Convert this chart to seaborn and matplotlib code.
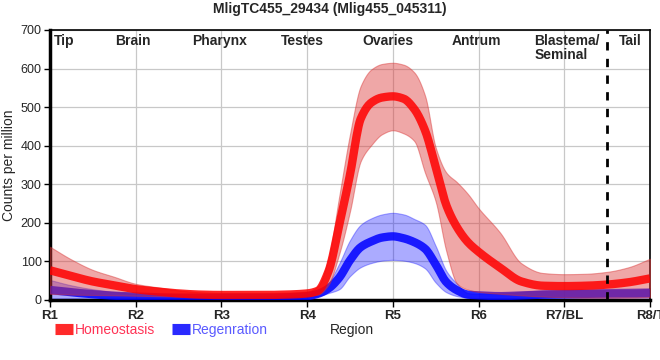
import matplotlib
matplotlib.use("Agg")
import matplotlib.pyplot as plt
from matplotlib.lines import Line2D
import numpy as np
import pandas as pd
import seaborn as sns

# positions along the body (1 = R1 ... 8 = R8/T)
pos = [1.0, 1.25, 1.5, 1.75, 2.0, 2.25, 2.5, 2.75, 3.0, 3.25, 3.5, 3.75,
       4.0, 4.125, 4.25, 4.375, 4.5, 4.625, 4.75, 4.875, 5.0, 5.125, 5.25,
       5.375, 5.5, 5.625, 5.75, 5.875, 6.0, 6.25, 6.5, 6.75, 7.0, 7.25, 7.5,
       7.75, 8.0]

homeo_mean = [77, 62, 48, 38, 28, 22, 17, 14, 13, 13, 13, 14,
              17, 24, 75, 195, 325, 470, 512, 525, 528, 522, 495,
              440, 345, 245, 188, 150, 125, 84, 48, 37, 36, 37, 40,
              46, 56]
homeo_hi = [138, 105, 78, 60, 42, 33, 25, 20, 18, 18, 18, 19,
            22, 36, 110, 270, 430, 555, 598, 612, 615, 610, 590,
            530, 395, 330, 305, 275, 238, 175, 95, 70, 67, 68, 73,
            85, 107]
homeo_lo = [16, 14, 13, 12, 11, 10, 9, 8, 8, 8, 8, 9,
            11, 14, 40, 120, 230, 360, 402, 430, 440, 432, 412,
            330, 255, 125, 42, 27, 21, 16, 12, 9, 7, 6, 6,
            6, 7]

regen_mean = [26, 20, 15, 11, 9, 7, 6, 6, 6, 6, 6, 7,
              10, 16, 30, 58, 103, 137, 152, 162, 165, 160, 150,
              133, 92, 46, 25, 14, 12, 10, 12, 14, 15, 16, 17,
              17, 18]
regen_hi = [52, 38, 28, 21, 16, 13, 11, 10, 10, 10, 10, 11,
            14, 24, 45, 95, 155, 195, 212, 222, 226, 222, 210,
            195, 140, 75, 42, 18, 16, 17, 21, 25, 27, 28, 29,
            30, 31]
regen_lo = [5, 4, 3, 3, 3, 3, 3, 3, 3, 3, 3, 4,
            6, 10, 18, 28, 62, 85, 96, 102, 104, 102, 96,
            82, 45, 20, 10, 6, 5, 4, 4, 5, 5, 5, 5,
            6, 6]

regions = ["R1", "R2", "R3", "R4", "R5", "R6", "R7/BL", "R8/T"]
organs = ["Tip", "Brain", "Pharynx", "Testes", "Ovaries", "Antrum",
          "Blastema/\nSeminal", "Tail"]
organ_x = [1.05, 1.97, 2.98, 3.95, 4.94, 5.97, 6.65, 7.77]
organ_ha = ["left", "center", "center", "center", "center", "center",
            "left", "center"]


def smooth(x, y, n=600):
    # monotone cubic (pchip) curve through the read points, for drawing only
    x = np.asarray(x, float)
    y = np.asarray(y, float)
    h = np.diff(x)
    d = np.diff(y) / h
    m = np.zeros_like(y)
    m[0], m[-1] = d[0], d[-1]
    for k in range(1, len(x) - 1):
        if d[k - 1] * d[k] > 0:
            w1 = 2 * h[k] + h[k - 1]
            w2 = h[k] + 2 * h[k - 1]
            m[k] = (w1 + w2) / (w1 / d[k - 1] + w2 / d[k])
    xs = np.linspace(x[0], x[-1], n)
    i = np.clip(np.searchsorted(x, xs) - 1, 0, len(x) - 2)
    t = (xs - x[i]) / h[i]
    h00 = 2 * t**3 - 3 * t**2 + 1
    h10 = t**3 - 2 * t**2 + t
    h01 = -2 * t**3 + 3 * t**2
    h11 = t**3 - t**2
    ys = h00 * y[i] + h10 * h[i] * m[i] + h01 * y[i + 1] + h11 * h[i] * m[i + 1]
    return xs, ys


xs, hm = smooth(pos, homeo_mean)
_, hh = smooth(pos, homeo_hi)
_, hl = smooth(pos, homeo_lo)
_, rm = smooth(pos, regen_mean)
_, rh = smooth(pos, regen_hi)
_, rl = smooth(pos, regen_lo)

df = pd.DataFrame({"pos": np.concatenate([xs, xs]),
                   "cpm": np.concatenate([hm, rm]),
                   "cond": ["Homeostasis"] * len(xs) + ["Regenration"] * len(xs)})

sns.set_theme(style="white")
plt.rcParams["font.family"] = ["Liberation Sans", "DejaVu Sans"]

red = "#ff0000"
blue = "#0000ff"

fig = plt.figure(figsize=(6.6, 3.6), dpi=100)
ax = fig.add_axes([50 / 660, 60 / 360, 600 / 660, 270 / 360])

# draw order: blue band, blue line, red band, red line
ax.fill_between(xs, rl, rh, color=blue, alpha=0.33, lw=0.8,
                edgecolor=(0, 0, 1, 0.25), zorder=2)
sns.lineplot(data=df[df.cond == "Regenration"], x="pos", y="cpm", color=blue,
             alpha=0.85, lw=6, ax=ax, zorder=3, legend=False,
             solid_capstyle="butt")
ax.fill_between(xs, hl, hh, color="#dc3c3c", alpha=0.45, lw=0.8,
                edgecolor=(0.85, 0.2, 0.2, 0.3), zorder=4)
sns.lineplot(data=df[df.cond == "Homeostasis"], x="pos", y="cpm", color=red,
             alpha=0.85, lw=6, ax=ax, zorder=5, legend=False,
             solid_capstyle="butt")

ax.axvline(7.5, color="black", ls=(0, (3, 3)), lw=2, zorder=6)

ax.set_xlim(1, 8)
ax.set_ylim(0, 700)
ax.set_xticks(range(1, 9))
ax.set_xticklabels(regions, fontsize=9.5, fontweight="bold")
ax.set_yticks(range(0, 701, 100))
ax.tick_params(axis="y", labelsize=9, length=4, width=1, pad=2,
               left=True, color="black")
ax.tick_params(axis="x", length=5, width=1, pad=2, bottom=True, color="black")
ax.grid(True, color="#c8c8c8", lw=0.9)
ax.set_axisbelow(True)
for side in ["left", "bottom"]:
    ax.spines[side].set_linewidth(2.5)
    ax.spines[side].set_color("black")
for side in ["top", "right"]:
    ax.spines[side].set_linewidth(1.2)
    ax.spines[side].set_color("black")

ax.set_xlabel("")
ax.set_ylabel("Counts per million", fontsize=10)
ax.yaxis.set_label_coords(-(50 - 16) / 600, 0.5)
fig.text(352 / 660, 1 - 330 / 360, "Region", ha="center", va="center", fontsize=10)

for name, x, ha in zip(organs, organ_x, organ_ha):
    ax.text(x, 690, name, ha=ha, va="top", fontsize=10, fontweight="bold",
            linespacing=1.0, zorder=7)

fig.suptitle("MligTC455_29434 (Mlig455_045311)", x=0.5, y=0.995, va="top",
             fontsize=10, fontweight="bold")

handles = [Line2D([], [], color="#ff2a2a", lw=8, solid_capstyle="butt"),
           Line2D([], [], color="#2a2aff", lw=8, solid_capstyle="butt")]
leg = fig.legend(handles, ["Homeostasis", "Regenration"], loc="center left",
                 bbox_to_anchor=(55 / 660, 1 - 330 / 360), ncol=2, frameon=False,
                 fontsize=10, handlelength=1.3, handletextpad=0.15,
                 columnspacing=1.2, borderpad=0, borderaxespad=0)
for t, c in zip(leg.get_texts(), ["#ff3355", "#5a5aff"]):
    t.set_color(c)

fig.savefig("out.png", dpi=100)
